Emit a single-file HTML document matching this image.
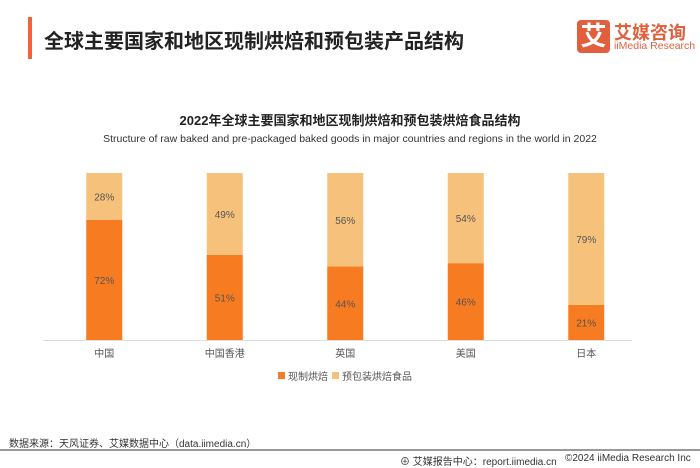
<!DOCTYPE html>
<html><head><meta charset="utf-8"><style>
body{margin:0;width:700px;height:467px;background:#fff;position:relative;overflow:hidden;font-family:"Liberation Sans","Noto Sans CJK SC",sans-serif}
.a{position:absolute;white-space:nowrap}
</style></head><body>
<div class="a" style="left:28px;top:17px;width:4px;height:42px;background:#f0643c"></div>
<div class="a" style="left:44px;top:25px;font-size:20px;font-weight:bold;color:#222">全球主要国家和地区现制烘焙和预包装产品结构</div>
<div class="a" style="left:577px;top:20px;width:33px;height:33px;background:#e0603e;border-radius:4px;color:#fff;font-size:26px;font-weight:bold;text-align:center;line-height:33px">艾</div>
<div class="a" style="left:614px;top:19px;font-size:18px;font-weight:bold;color:#e0603e">艾媒咨询</div>
<div class="a" style="left:614px;top:40px;font-size:10.5px;color:#e0603e">iiMedia Research</div>
<div class="a" style="left:0;width:700px;text-align:center;top:110px;font-size:13px;font-weight:bold;color:#222">2022年全球主要国家和地区现制烘焙和预包装烘焙食品结构</div>
<div class="a" style="left:0;width:700px;text-align:center;top:133px;font-size:10.5px;color:#333">Structure of raw baked and pre-packaged baked goods in major countries and regions in the world in 2022</div>
<svg class="a" style="left:0;top:0" width="700" height="467" id="chart"></svg>
<div class="a" style="left:9px;top:435px;font-size:10px;color:#333">数据来源：天风证券、艾媒数据中心（data.iimedia.cn）</div>
<div class="a" style="left:0;top:449px;width:700px;height:2px;background:#999"></div>
<div class="a" style="left:400px;top:453px;font-size:10px;color:#333">⊕ 艾媒报告中心：report.iimedia.cn</div>
<div class="a" style="left:565px;top:453px;font-size:10px;color:#333">©2024 iiMedia Research Inc</div>
<script>
const categories=["中国","中国香港","英国","美国","日本"];
const freshBaked=[72,51,44,46,21];
const packaged=[28,49,56,54,79];
const svg=document.getElementById('chart');
const NS='http://www.w3.org/2000/svg';
const top0=173,base=340,x0=44,step=120.5,bw=36;
const y=v=>base-(base-top0)*v/100;
const cx=i=>x0+step*(i+0.5);
function mk(t,a){const e=document.createElementNS(NS,t);for(const k in a)e.setAttribute(k,a[k]);svg.appendChild(e);return e;}
const ax=mk('line',{x1:43,x2:632,y1:340.5,y2:340.5,stroke:'#ddd'});


categories.forEach((c,i)=>{
 const b1=mk('rect',{x:cx(i)-bw/2,y:y(freshBaked[i]),width:bw,height:base-y(freshBaked[i]),fill:'#f77b20'});
 
 
 const b2=mk('rect',{x:cx(i)-bw/2,y:y(freshBaked[i]+packaged[i]),width:bw,height:y(freshBaked[i])-y(freshBaked[i]+packaged[i]),fill:'#f6c27b'});
 
 
 const t1=mk('text',{x:cx(i),y:(y(freshBaked[i])+base)/2+4,'text-anchor':'middle','font-size':10,fill:'#555'});
 t1.textContent=freshBaked[i]+'%';
 
 
 const t2=mk('text',{x:cx(i),y:(y(freshBaked[i])+y(freshBaked[i]+packaged[i]))/2+4,'text-anchor':'middle','font-size':10,fill:'#555'});
 t2.textContent=packaged[i]+'%';
 
 
 const tl=mk('text',{x:cx(i),y:357,'text-anchor':'middle','font-size':10,fill:'#555'});
 tl.textContent=c;
 
 
});
const l1=mk('rect',{x:278,y:372,width:7,height:7,fill:'#f77b20'});


const lt1=mk('text',{x:288,y:380,'font-size':10,fill:'#555'});lt1.textContent='现制烘焙';


const l2=mk('rect',{x:332,y:372,width:7,height:7,fill:'#f6c27b'});


const lt2=mk('text',{x:342,y:380,'font-size':10,fill:'#555'});lt2.textContent='预包装烘焙食品';


</script>
</body></html>
